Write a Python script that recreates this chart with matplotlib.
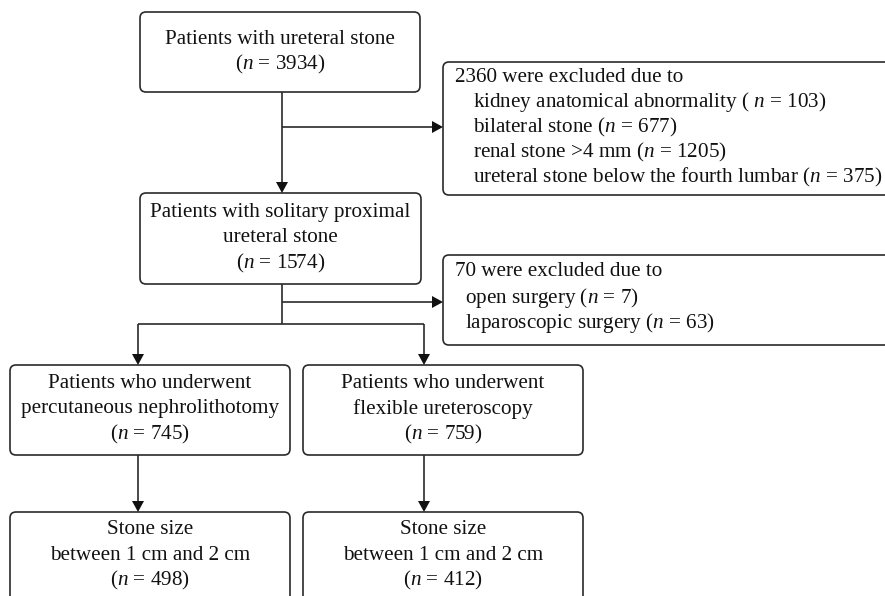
import matplotlib
matplotlib.use("Agg")
import matplotlib.pyplot as plt
from matplotlib.patches import FancyBboxPatch, Polygon

plt.rcParams['font.family'] = ['Liberation Serif', 'DejaVu Serif']
plt.rcParams['mathtext.fontset'] = 'custom'
plt.rcParams['mathtext.rm'] = 'Liberation Serif'
plt.rcParams['mathtext.it'] = 'Liberation Serif:italic'

# ---- data (flowchart contents) ----
main_labels = [
    ["Patients with ureteral stone"],
    ["Patients with solitary proximal", "ureteral stone"],
    ["Patients who underwent", "percutaneous nephrolithotomy"],
    ["Patients who underwent", "flexible ureteroscopy"],
    ["Stone size", "between 1 cm and 2 cm"],
    ["Stone size", "between 1 cm and 2 cm"],
]
main_n = [3934, 1574, 745, 759, 498, 412]

excl1_total = 2360
excl1_reasons = ["kidney anatomical abnormality ( ", "bilateral stone (", "renal stone >4 mm (",
                 "ureteral stone below the fourth lumbar ("]
excl1_n = [103, 677, 1205, 375]
excl2_total = 70
excl2_reasons = ["open surgery (", "laparoscopic surgery ("]
excl2_n = [7, 63]

# ---- layout ----
W, H = 885, 596
fig = plt.figure(figsize=(W / 100, H / 100), dpi=100)
ax = fig.add_axes([0, 0, 1, 1])
ax.set_xlim(0, W)
ax.set_ylim(H, 0)
ax.axis('off')

LC = '#2a2a2a'
LW = 1.2
FS = 15.2
LS = 25.5
TC = '#111111'

def box(x0, y0, x1, y1):
    p = FancyBboxPatch((x0, y0), x1 - x0, y1 - y0,
                       boxstyle="round,pad=0,rounding_size=6",
                       fc='white', ec=LC, lw=LW, zorder=2)
    ax.add_patch(p)

def ntext(n):
    return r"($n$ = %d)" % n

def centered(x, yc, lines):
    k = len(lines)
    for i, s in enumerate(lines):
        y = yc + (i - (k - 1) / 2) * LS
        ax.text(x, y, s, ha='center', va='center', fontsize=FS, color=TC, zorder=3)

def line(xs, ys):
    ax.plot(xs, ys, color=LC, lw=LW, solid_capstyle='butt', zorder=1)

def arrow_down(x, y0, y1):
    line([x, x], [y0, y1 - 9])
    ax.add_patch(Polygon([[x - 6, y1 - 11], [x + 6, y1 - 11], [x, y1]], closed=True,
                         fc='#111111', ec='none', zorder=3))

def arrow_right(x0, x1, y):
    line([x0, x1 - 9], [y, y])
    ax.add_patch(Polygon([[x1 - 11, y - 6], [x1 - 11, y + 6], [x1, y]], closed=True,
                         fc='#111111', ec='none', zorder=3))

main_boxes = [
    (140, 12, 420, 92),
    (140, 193, 421, 284),
    (10, 365, 290, 455),
    (303, 365, 583, 455),
    (10, 512, 290, 610),
    (303, 512, 583, 610),
]
text_centers = [52, 238, 409, 409, 555, 555]

for (x0, y0, x1, y1), lab, n, yc in zip(main_boxes, main_labels, main_n, text_centers):
    box(x0, y0, x1, y1)
    centered((x0 + x1) / 2, yc, lab + [ntext(n)])

# exclusion boxes
box(443, 62, 900, 195)
ax.text(455, 77, "%d were excluded due to" % excl1_total, ha='left', va='center',
        fontsize=FS, color=TC, zorder=3)
for i, (r, n) in enumerate(zip(excl1_reasons, excl1_n)):
    ax.text(473, 77 + (i + 1) * 25.2, r + r"$n$ = %d)" % n, ha='left', va='center',
            fontsize=FS, color=TC, zorder=3)

box(443, 255, 900, 345)
ax.text(455, 272, "%d were excluded due to" % excl2_total, ha='left', va='center',
        fontsize=FS, color=TC, zorder=3)
for i, (r, n) in enumerate(zip(excl2_reasons, excl2_n)):
    ax.text(465, 272 + (i + 1) * 25.5, r + r"$n$ = %d)" % n, ha='left', va='center',
            fontsize=FS, color=TC, zorder=3)

# connectors
xm = 282
arrow_down(xm, 92, 193)
arrow_right(xm, 443, 127)
line([xm, xm], [284, 324])
arrow_right(xm, 443, 302)
line([138, 424], [324, 324])
arrow_down(138, 324, 365)
arrow_down(424, 324, 365)
arrow_down(138, 455, 512)
arrow_down(424, 455, 512)

fig.savefig("out.png", dpi=100, facecolor='white')
